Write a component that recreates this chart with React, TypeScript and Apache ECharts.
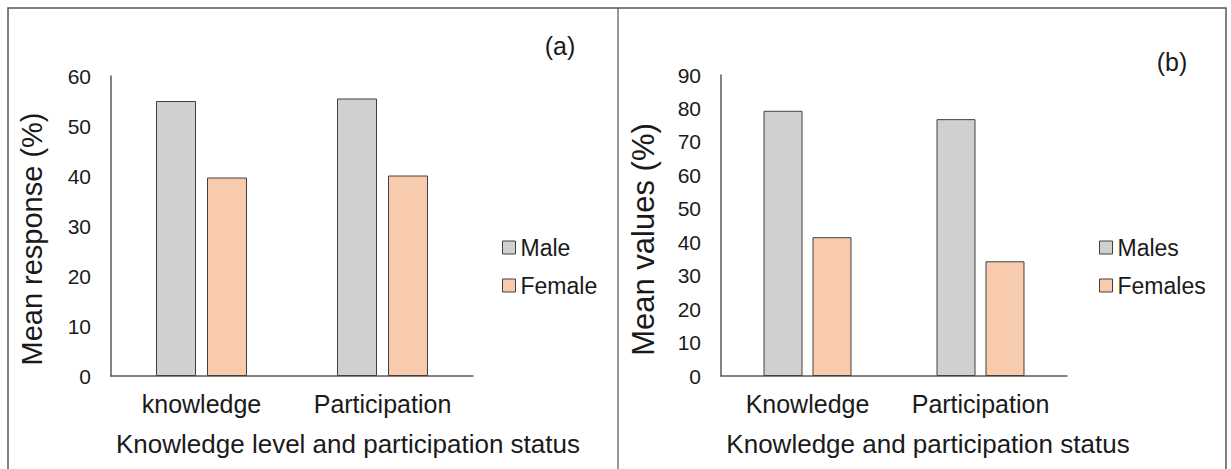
import React, { useEffect, useRef } from "react";
import * as echarts from "echarts";

const categoriesA = ["knowledge", "Participation"];
const maleA = [55.0, 55.5];
const femaleA = [39.7, 40.1];

const categoriesB = ["Knowledge", "Participation"];
const maleB = [79.3, 76.8];
const femaleB = [41.5, 34.3];

const yTicksA = { min: 0, max: 60, interval: 10 };
const yTicksB = { min: 0, max: 90, interval: 10 };

const FONT = "Liberation Sans, Arial, sans-serif";
const TXT = "#1a1a1a";
const AX = "#595959";
const GRAY = "#d0d0d0";
const PEACH = "#f8cbad";
const EDGE = "#404040";

export default function App() {
  const ref = useRef<HTMLDivElement>(null);
  useEffect(() => {
    if (!ref.current) return;
    const chart = echarts.init(ref.current, undefined, { renderer: "svg" });
    const xAxisCommon = {
      type: "category" as const,
      axisLine: { show: true, lineStyle: { color: AX, width: 1.5 } },
      axisTick: { show: false },
      axisLabel: { color: TXT, fontSize: 25, fontFamily: FONT, margin: 15, interval: 0, hideOverlap: false },
      nameLocation: "middle" as const,
      nameTextStyle: { color: TXT, fontSize: 26, fontFamily: FONT },
    };
    const yAxisCommon = {
      type: "value" as const,
      axisLine: { show: true, lineStyle: { color: AX, width: 1.5 } },
      axisTick: { show: false },
      splitLine: { show: false },
      axisLabel: { color: TXT, fontSize: 21, fontFamily: FONT, margin: 20 },
      nameLocation: "middle" as const,
      nameRotate: 90,
    };
    const barStyle = (c: string) => ({ color: c, borderColor: EDGE, borderWidth: 1 });
    chart.setOption({
      animation: false,
      backgroundColor: "#ffffff",
      grid: [
        { left: 111, top: 76, width: 362, bottom: 93 },
        { left: 721, top: 75, width: 346, bottom: 93 },
      ],
      xAxis: [
        {
          ...xAxisCommon,
          gridIndex: 0,
          data: categoriesA,
          name: "Knowledge level and participation status",
          nameGap: 55,
          nameTextStyle: { ...xAxisCommon.nameTextStyle, padding: [0, 0, 0, 112] },
        },
        {
          ...xAxisCommon,
          gridIndex: 1,
          data: categoriesB,
          name: "Knowledge and participation status",
          nameGap: 55,
          nameTextStyle: { ...xAxisCommon.nameTextStyle, padding: [0, 0, 0, 68] },
        },
      ],
      yAxis: [
        {
          ...yAxisCommon,
          gridIndex: 0,
          ...yTicksA,
          name: "Mean response (%)",
          nameGap: 65,
          nameTextStyle: { color: TXT, fontSize: 29, fontFamily: FONT, padding: [0, 26, 0, 0] },
        },
        {
          ...yAxisCommon,
          gridIndex: 1,
          ...yTicksB,
          name: "Mean values (%)",
          nameGap: 62,
          nameTextStyle: { color: TXT, fontSize: 31, fontFamily: FONT, padding: [0, 28, 0, 0] },
        },
      ],
      legend: [
        {
          data: ["Male", "Female"],
          orient: "vertical",
          left: 497,
          top: 231,
          itemWidth: 13,
          itemHeight: 13,
          itemGap: 15,
          itemTextGap: 7,
          icon: "rect",
          textStyle: { color: TXT, fontSize: 23, fontFamily: FONT },
          itemStyle: { borderColor: EDGE, borderWidth: 1 },
        },
        {
          data: ["Males", "Females"],
          orient: "vertical",
          left: 1094,
          top: 231,
          itemWidth: 13,
          itemHeight: 13,
          itemGap: 15,
          itemTextGap: 7,
          icon: "rect",
          textStyle: { color: TXT, fontSize: 23, fontFamily: FONT },
          itemStyle: { borderColor: EDGE, borderWidth: 1 },
        },
      ],
      graphic: [
        {
          type: "rect",
          shape: { x: 8, y: 8, width: 1218, height: 480 },
          style: { fill: "none", stroke: "#555555", lineWidth: 1.5 },
          silent: true,
        },
        {
          type: "line",
          shape: { x1: 618, y1: 8, x2: 618, y2: 469 },
          style: { stroke: "#555555", lineWidth: 1.2 },
          silent: true,
        },
        {
          type: "text",
          x: 560,
          y: 46,
          style: { text: "(a)", fill: TXT, fontSize: 25, fontFamily: FONT, align: "center", verticalAlign: "middle" },
        },
        {
          type: "text",
          x: 1172,
          y: 62,
          style: { text: "(b)", fill: TXT, fontSize: 25, fontFamily: FONT, align: "center", verticalAlign: "middle" },
        },
      ],
      series: [
        { name: "Male", type: "bar", xAxisIndex: 0, yAxisIndex: 0, data: maleA, barWidth: 40, barGap: "27.5%", itemStyle: barStyle(GRAY) },
        { name: "Female", type: "bar", xAxisIndex: 0, yAxisIndex: 0, data: femaleA, barWidth: 40, barGap: "27.5%", itemStyle: barStyle(PEACH) },
        { name: "Males", type: "bar", xAxisIndex: 1, yAxisIndex: 1, data: maleB, barWidth: 39, barGap: "25.6%", itemStyle: barStyle(GRAY) },
        { name: "Females", type: "bar", xAxisIndex: 1, yAxisIndex: 1, data: femaleB, barWidth: 39, barGap: "25.6%", itemStyle: barStyle(PEACH) },
      ],
    });
    return () => chart.dispose();
  }, []);
  return (
    <div
      ref={ref}
      style={{ position: "fixed", left: 0, top: 0, width: 1231, height: 469, background: "#fff" }}
    />
  );
}
